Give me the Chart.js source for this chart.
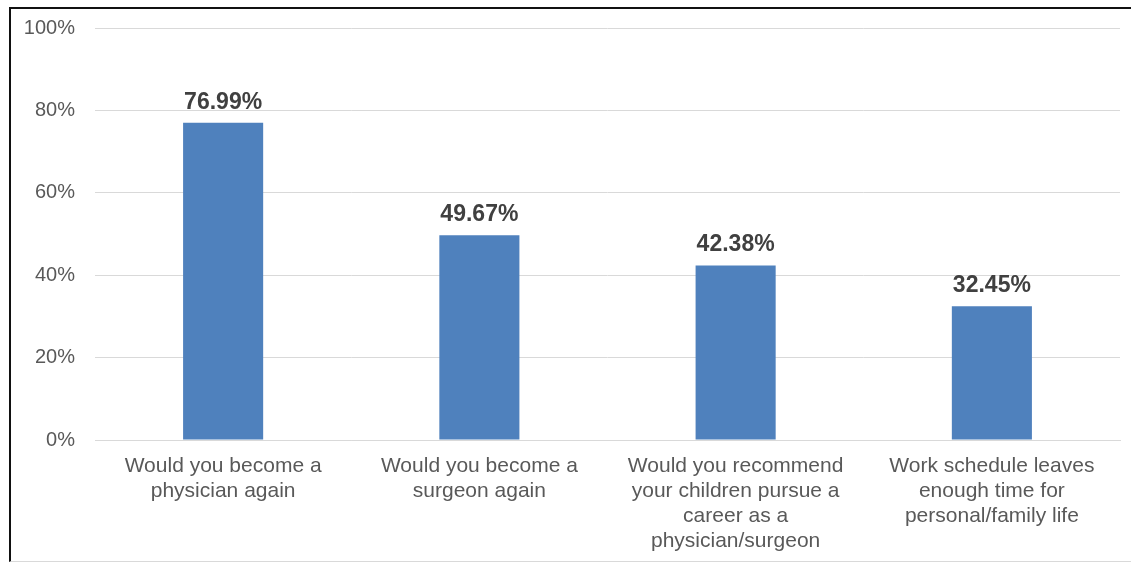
<!DOCTYPE html>
<html>
<head>
<meta charset="utf-8">
<script src="https://cdn.jsdelivr.net/npm/chart.js@4/dist/chart.umd.min.js"></script>
<style>
    html, body { margin: 0; padding: 0; background: #fff; }
    .frame {
        position: absolute; left: 9px; top: 7px; width: 1122px; height: 552px;
        border-top: 2px solid #111; border-left: 2px solid #111; border-bottom: 1px solid #d9d9d9;
    }
    .wrap { position: absolute; left: 0; top: 0; width: 1131px; height: 562px; }
</style>
</head>
<body>
<div class="frame"></div>
<div class="wrap"><canvas id="chart" width="1131" height="562"></canvas></div>
<script>
// Data
const categories = [
    ['Would you become a', 'physician again'],
    ['Would you become a', 'surgeon again'],
    ['Would you recommend', 'your children pursue a', 'career as a', 'physician/surgeon'],
    ['Work schedule leaves', 'enough time for', 'personal/family life']
];
const values = [76.99, 49.67, 42.38, 32.45];
const yTicks = [0, 20, 40, 60, 80, 100];

const FONT = "'Liberation Sans', Arial, sans-serif";

// value labels above bars
const valueLabels = {
    id: 'valueLabels',
    afterDatasetsDraw(chart) {
        const ctx = chart.ctx;
        const meta = chart.getDatasetMeta(0);
        ctx.save();
        ctx.font = 'bold 23px ' + FONT;
        ctx.fillStyle = '#404040';
        ctx.textAlign = 'center';
        ctx.textBaseline = 'bottom';
        meta.data.forEach((bar, i) => {
            ctx.fillText(values[i].toFixed(2) + '%', bar.x, bar.y - 9);
        });
        ctx.restore();
    }
};

new Chart(document.getElementById('chart'), {
    type: 'bar',
    data: {
        labels: categories,
        datasets: [{
            data: values,
            backgroundColor: '#4F81BD',
            categoryPercentage: 1,
            barPercentage: 0.3125
        }]
    },
    options: {
        responsive: false,
        animation: false,
        layout: { padding: { top: 28, right: 11, left: 0, bottom: 0 } },
        plugins: {
            legend: { display: false },
            tooltip: { enabled: false }
        },
        scales: {
            x: {
                grid: { display: false, drawTicks: false },
                border: { color: '#d9d9d9', width: 1 },
                ticks: {
                    color: '#595959',
                    font: { family: FONT, size: 21, lineHeight: 1.19 },
                    padding: 14,
                    maxRotation: 0,
                    autoSkip: false
                },
                afterFit(scale) { scale.height = 122; }
            },
            y: {
                min: 0,
                max: 100,
                afterBuildTicks(scale) { scale.ticks = yTicks.map(v => ({ value: v })); },
                grid: { color: '#d9d9d9', drawTicks: false },
                border: { display: false },
                ticks: {
                    color: '#595959',
                    font: { family: FONT, size: 20, lineHeight: 0.6 },
                    padding: 20,
                    callback: v => v + '%'
                },
                afterFit(scale) { scale.width = 95; }
            }
        }
    },
    plugins: [valueLabels]
});
</script>
</body>
</html>
